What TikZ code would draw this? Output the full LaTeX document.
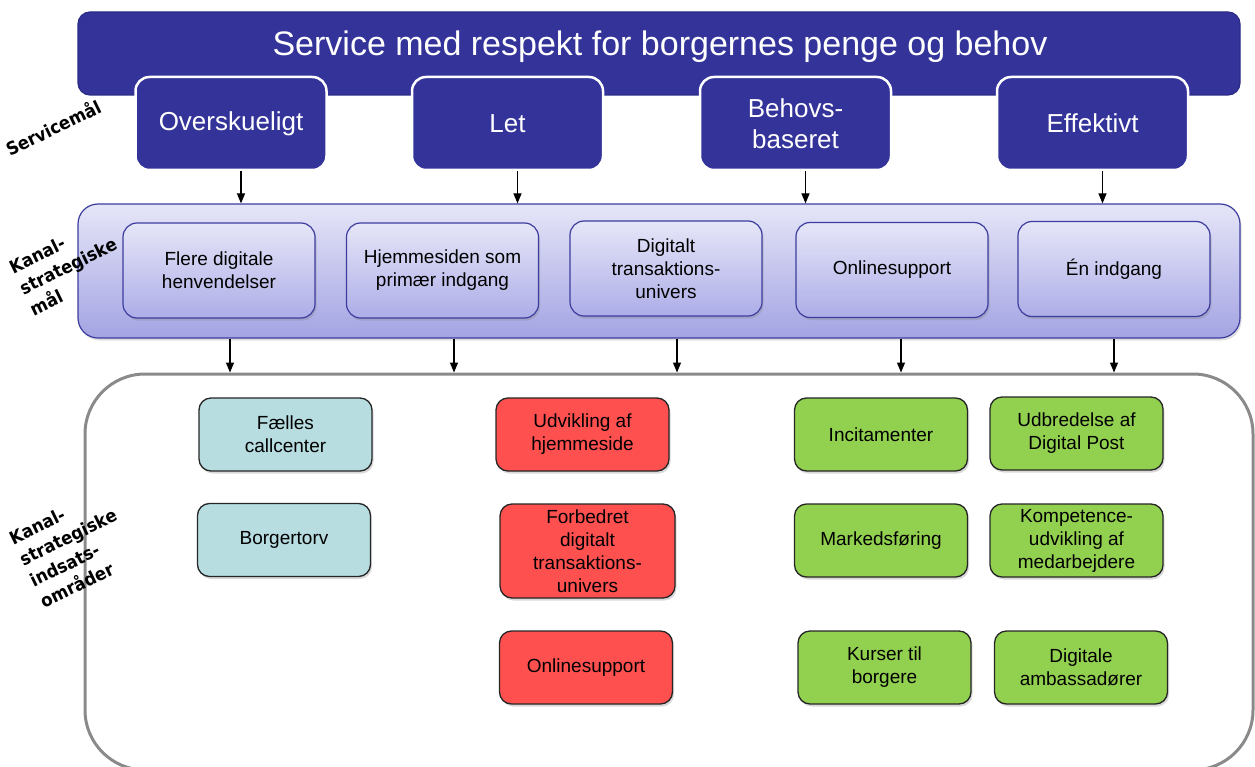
\documentclass[tikz,border=0pt]{standalone}
\usepackage{fontspec}
\setmainfont{Liberation Sans}
\newfontfamily\lblfont{DejaVu Sans}[FakeStretch=0.92]
\usetikzlibrary{arrows.meta,shadows,calc}
\definecolor{navy}{HTML}{333399}
\definecolor{bannerline}{HTML}{2B2B85}
\definecolor{bandtop}{HTML}{E6E6F8}
\definecolor{bandbot}{HTML}{A3A3E3}
\definecolor{bandline}{HTML}{3D3D9E}
\definecolor{midtop}{HTML}{E6E6F8}
\definecolor{midbot}{HTML}{ADADE8}
\definecolor{contgray}{HTML}{8A8A8A}
\definecolor{lblue}{HTML}{B7DDE1}
\definecolor{redbox}{HTML}{FF5050}
\definecolor{greenbox}{HTML}{92D050}
\begin{document}
\begin{tikzpicture}[x=1pt,y=-1pt,
  banner/.style={draw=bannerline, line width=1.2pt, fill=navy, rounded corners=12pt,
    minimum width=1162pt, minimum height=83pt, inner sep=0pt},
  titletext/.style={text=white, font=\fontsize{34}{39}\selectfont, inner sep=0pt},
  goal/.style={draw=white, line width=2.5pt, fill=navy, rounded corners=14pt,
    minimum width=191pt, minimum height=93pt, text=white, align=center,
    font=\fontsize{26}{31}\selectfont, inner sep=0pt},
  band/.style={draw=bandline, line width=1.2pt, top color=bandtop, bottom color=bandbot,
    rounded corners=20pt, minimum width=1162pt, minimum height=134pt, inner sep=0pt,
    drop shadow={opacity=0.25, shadow xshift=1.5pt, shadow yshift=-2.5pt}},
  midbox/.style={draw=bandline, line width=1.2pt, top color=midtop, bottom color=midbot,
    rounded corners=14pt, minimum width=192pt, minimum height=95pt, align=center,
    font=\fontsize{19}{23}\selectfont, inner sep=0pt,
    drop shadow={opacity=0.3, shadow xshift=1.5pt, shadow yshift=-2.5pt}},
  cont/.style={draw=contgray, line width=3pt, rounded corners=60pt,
    minimum width=1168pt, minimum height=396pt, inner sep=0pt},
  act/.style={draw=black!85, line width=1.3pt, rounded corners=12pt,
    minimum width=173pt, minimum height=73pt, align=center,
    font=\fontsize{19}{23}\selectfont, inner sep=0pt,
    drop shadow={opacity=0.3, shadow xshift=1.5pt, shadow yshift=-2.5pt}},
  lbl/.style={rotate=26, align=left, font=\lblfont\bfseries\fontsize{18}{23.5}\selectfont, inner sep=0pt},
  arr/.style={-{Triangle[width=8pt,length=10pt]}, line width=1.2pt}
]
\useasboundingbox (0,0) rectangle (1255,767);

% top banner and service goals
\node[banner] (banner) at (659,53.5) {};
\node[titletext] (title) at (660,47) {Service med respekt for borgernes penge og behov};
\node[goal] (ov)  at (231,123.5)  {Overskueligt};
\node[goal] (let) at (507.5,123.5) {Let};
\node[goal] (beh) at (795.5,123.5) {Behovs-\\baseret};
\node[goal] (eff) at (1092.5,123.5) {Effektivt};

% channel-strategic goals
\node[band] (band) at (659,271) {};
\node[midbox] (m1) at (219,270.5) {Flere digitale\\henvendelser};
\node[midbox] (m2) at (442.5,270.5) {Hjemmesiden som\\primær indgang};
\node[midbox] (m3) at (666,268.5) {Digitalt\\transaktions-\\univers};
\node[midbox] (m4) at (892,270) {Onlinesupport};
\node[midbox] (m5) at (1114,269) {Én indgang};

% container
\node[cont] (cont) at (669,572) {};

% action areas
\node[act, fill=lblue] (b1) at (285.5,434.5) {Fælles\\callcenter};
\node[act, fill=lblue] (b2) at (284,540) {Borgertorv};
\node[act, fill=redbox] (r1) at (582.5,434.5) {Udvikling af\\hjemmeside};
\node[act, fill=redbox, minimum width=175pt, minimum height=94pt] (r2) at (587.5,551) {Forbedret\\digitalt\\transaktions-\\univers};
\node[act, fill=redbox] (r3) at (586,667.5) {Onlinesupport};
\node[act, fill=greenbox] (g1) at (881,434.5) {Incitamenter};
\node[act, fill=greenbox] (g2) at (1076.5,433.5) {Udbredelse af\\Digital Post};
\node[act, fill=greenbox] (g3) at (881,540.5) {Markedsføring};
\node[act, fill=greenbox] (g4) at (1076.5,540.5) {Kompetence-\\udvikling af\\medarbejdere};
\node[act, fill=greenbox] (g5) at (884.5,667.5) {Kurser til\\borgere};
\node[act, fill=greenbox] (g6) at (1081,667.5) {Digitale\\ambassadører};

% arrows
\foreach \n in {ov,let,beh,eff}
  \draw[arr] ([xshift=10pt]\n.south) -- ([xshift=10pt]\n.south |- band.north);
\foreach \n/\s in {m1/11,m2/11.5,m3/11,m4/9,m5/0}
  \draw[arr] ([xshift=\s pt]\n.south |- band.south) -- ([xshift=\s pt]\n.south |- cont.north);

% side labels
\node[lbl, anchor=base west] (l1) at (10,157) {Servicemål};
\node[lbl, anchor=north west] (l2) at (7,261.7) {Kanal-\\strategiske\\mål};
\node[lbl, anchor=north west] (l3) at (7,532.7) {Kanal-\\strategiske\\indsats-\\områder};
\end{tikzpicture}
\end{document}
